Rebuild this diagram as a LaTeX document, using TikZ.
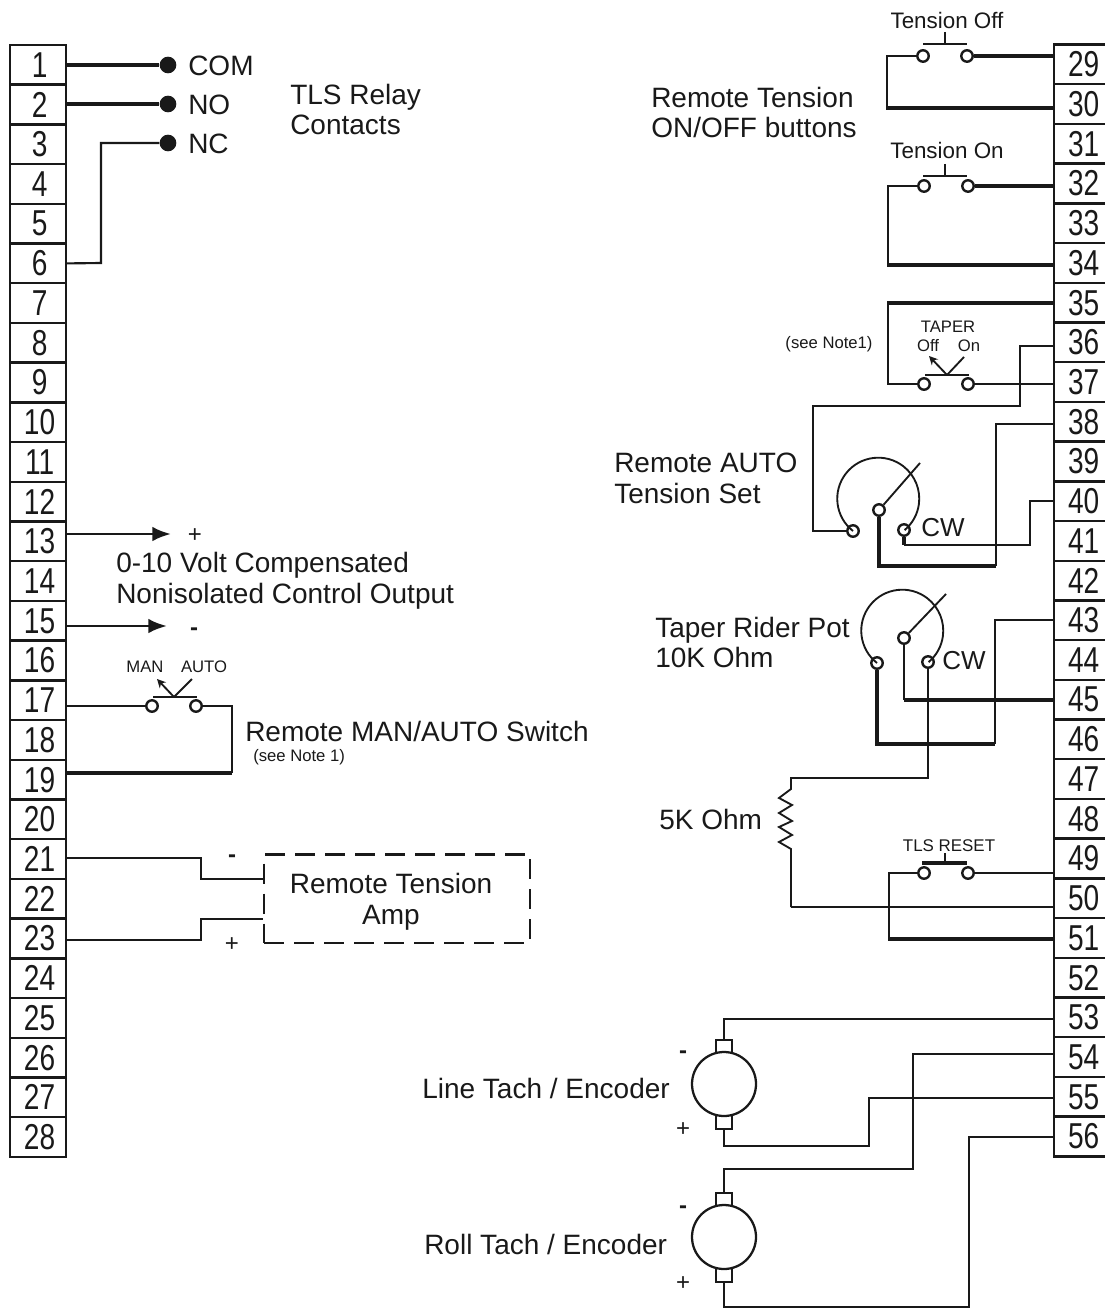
\documentclass[tikz,border=0pt]{standalone}
\usepackage{fontspec}
\setmainfont{Liberation Sans}
\newfontfamily\narrowf[FakeStretch=0.78]{Liberation Sans}
\usetikzlibrary{arrows.meta}
\newcommand{\termtext}[1]{\hspace*{2.4pt}\raisebox{-0.7pt}{#1}}
\tikzset{
  x=0.75pt,y=-0.75pt,
  term/.style={draw=black!90,line width=1.8pt,minimum width=42pt,minimum height=29.8pt,inner sep=0pt,font=\narrowf\fontsize{27}{27}\selectfont,text=black!90},
  wire/.style={draw=black!90,line width=1.6pt,line join=miter},
  thin wire/.style={draw=black!90,line width=1.4pt},
  thick wire/.style={draw=black!90,line width=2.5pt},
  lab/.style={inner sep=0pt,anchor=west,align=left,font=\fontsize{21}{23.2}\selectfont,text=black!90},
  midlab/.style={inner sep=0pt,font=\fontsize{16.8}{18}\selectfont,text=black!90},
  small/.style={inner sep=0pt,font=\fontsize{12.5}{14}\selectfont,text=black!90},
  sign/.style={inner sep=0pt,font=\fontsize{18}{20}\selectfont,text=black!90},
  minus/.style={inner sep=0pt,font=\bfseries\fontsize{18}{20}\selectfont,text=black!90},
  pin/.style={circle,draw=black!90,fill=white,line width=1.8pt,minimum size=8.6pt,inner sep=0pt},
  dotpin/.style={circle,fill=black!90,minimum size=12.5pt,inner sep=0pt},
  brush/.style={rectangle,draw=black!90,fill=white,line width=1.3pt,minimum width=12pt,minimum height=10pt,inner sep=0pt},
  motor/.style={circle,draw=black!90,fill=white,line width=1.7pt,minimum size=48pt,inner sep=0pt},
  amp/.style={rectangle,draw=black!90,dash pattern=on 15pt off 7.5pt,line width=2pt,minimum width=199.5pt,minimum height=66.5pt,inner sep=0pt},
  bar/.style={draw=black!90,line width=1.4pt},
  stem/.style={draw=black!90,line width=1.9pt},
  arr/.style={draw=black!90,line width=2.2pt,-{Latex[length=14pt,width=11pt]}},
  swarr/.style={draw=black!90,line width=1.4pt,-{Stealth[length=6.5pt,width=6.5pt]}},
}
\begin{document}
\begin{tikzpicture}
\useasboundingbox (0,0) rectangle (1104,1308);
\foreach \i in {1,...,28}{
  \node[term] (t\i) at (38,{45+39.71*(\i-0.5)}) {\termtext{\i}};
}
\foreach \i [evaluate=\i as \r using int(\i-28)] in {29,...,56}{
  \node[term] (t\i) at (1082,{44.5+39.71*(\r-0.5)}) {\termtext{\i}};
}
% relay contacts
\node[dotpin] (com) at (168,65) {};
\node[dotpin] (no) at (168,104) {};
\node[dotpin] (nc) at (168,143) {};
\draw[thick wire] (t1.east |- com) -- (com);
\draw[thick wire] (t2.east |- no) -- (no);
\draw[wire] (t6.east) -- (101,263) -- (101,143) -- (nc);
\node[lab] (lcom) at (188,66) {COM};
\node[lab] (lno) at (188,105) {NO};
\node[lab] (lnc) at (188,144) {NC};
\node[lab] (lrelay) at (290,109.5) {TLS Relay\\Contacts};
% output
\coordinate (a13) at (171,534);
\coordinate (a15) at (167,626);
\draw[arr] (t13.east |- a13) -- (a13);
\draw[arr] (t15.east |- a15) -- (a15);
\node[sign] (lplus) at (195,536) {+};
\node[minus] (lminus) at (194,632) {-};
\node[lab] (lout) at (116,581) {0-10 Volt Compensated\\Nonisolated Control Output};
% man auto
\node[pin] (ma) at (152,706) {};
\node[pin] (mb) at (196,706) {};
\draw[wire] (t17.east |- ma) -- (ma);
\draw[wire] (mb) -- (232,706) -- (232,773);
\draw[thick wire] (232,773) -- (t19.east |- 0,773);
\draw[bar] (153,697) -- (197,697);
\draw[swarr] (174,697) -- (157,679);
\draw[bar] (174,697) -- (192,679);
\node[small] (lman) at (145,667) {MAN};
\node[small] (lauto) at (204,667) {AUTO};
\node[lab] (lremsw) at (245,731) {Remote MAN/AUTO Switch};
\node[small,anchor=west] (lnote) at (253,757) {(see Note 1)};
% amp
\node[amp] (ampbox) at (397,898.5) {};
\node[lab,anchor=center,align=center] (lamp) at (391,902) {Remote Tension\\Amp};
\draw[wire] (t21.east |- 0,858) -- (201,858) -- (201,879) -- (ampbox.west |- 0,879);
\draw[wire] (t23.east |- 0,940) -- (201,940) -- (201,919) -- (ampbox.west |- 0,919);
\node[minus] (lam) at (232,859) {-};
\node[sign] (lap) at (232,945) {+};
% tension off
\node[pin] (oa) at (923,56) {};
\node[pin] (ob) at (967,56) {};
\draw[thick wire] (ob) -- (t29.west |- ob);
\draw[thin wire] (oa) -- (887,56) -- (887,108);
\draw[thick wire] (886,108) -- (t30.west |- 0,108);
\draw[bar] (923,44) -- (967,44);
\draw[stem] (945,32) -- (945,44);
\node[midlab] (loff) at (947,20.5) {Tension Off};
% tension on
\node[pin] (na) at (924,186) {};
\node[pin] (nb) at (968,186) {};
\draw[thick wire] (nb) -- (t32.west |- nb);
\draw[thin wire] (na) -- (888,186) -- (888,265);
\draw[thick wire] (887,265) -- (t34.west |- 0,265);
\draw[bar] (923,176) -- (967,176);
\draw[stem] (945,164) -- (945,176);
\node[midlab] (lon) at (947,150.5) {Tension On};
\node[lab] (lrem) at (651,112.5) {Remote Tension\\ON/OFF buttons};
% taper
\node[pin] (ta) at (924,384) {};
\node[pin] (tb) at (968,384) {};
\draw[thick wire] (t35.west |- 0,303) -- (887,303);
\draw[thin wire] (888,303) -- (888,384) -- (ta);
\draw[thin wire] (tb) -- (t37.west |- tb);
\draw[bar] (925,375) -- (969,375);
\draw[swarr] (947,375) -- (929,356);
\draw[bar] (947,375) -- (964,357);
\node[small] (ltaper) at (948,327) {TAPER};
\node[small] (ltoff) at (928,346) {Off};
\node[small] (lton) at (969,346) {On};
\node[small] (lnote1) at (829,344) {(see Note1)};
% pot 1
\node[pin] (p1l) at (853,531) {};
\node[pin] (p1w) at (879,510) {};
\node[pin] (p1c) at (904,530) {};
\draw[thin wire] (t36.west |- 0,346) -- (1020,346) -- (1020,406) -- (813,406) -- (813,531) -- (p1l);
\draw[thin wire] (p1w) -- (920,463);
\draw[thick wire] (p1w) -- (879,566) -- (996,566);
\draw[thin wire] (996,566) -- (996,424) -- (t38.west |- 0,424);
\draw[thick wire] (p1c) -- (904,545);
\draw[thin wire] (904,545) -- (1030,545) -- (1030,501) -- (t40.west |- 0,501);
\draw[thin wire] (p1l) ++(0,0) arc[start angle=232,end angle=-50,radius=30.75pt];
\node[midlab,font=\fontsize{19.5}{20}\selectfont] (lcw1) at (943,527.5) {CW};
\node[lab] (lpot1) at (614,478.5) {Remote AUTO\\Tension Set};
% pot 2
\node[pin] (p2l) at (877,663) {};
\node[pin] (p2w) at (904,638) {};
\node[pin] (p2c) at (928,662) {};
\draw[thin wire] (p2w) -- (946,594);
\draw[thin wire] (p2w) -- (904,700);
\draw[thick wire] (904,700) -- (t45.west |- 0,700);
\draw[thick wire] (p2l) -- (877,744) -- (995,744);
\draw[thin wire] (995,744) -- (995,620) -- (t43.west |- 0,620);
\coordinate (rtop) at (791,789);
\coordinate (rbot) at (791,849);
\draw[thin wire] (p2c) -- (928,778) -- (791,778) -- (rtop)
  -- (779,798) -- (792,805) -- (779,813) -- (792,821) -- (779,827) -- (792,835) -- (779,842) -- (rbot)
  -- (791,907);
\draw[thin wire] (791,907) -- (t50.west |- 0,907);
\draw[thin wire] (p2l) ++(0,0) arc[start angle=232,end angle=-50,radius=30.75pt];
\node[midlab,font=\fontsize{19.5}{20}\selectfont] (lcw2) at (964,660.5) {CW};
\node[lab] (lpot2) at (655,642.5) {Taper Rider Pot\\10K Ohm};
\node[lab] (l5k) at (659,819) {5K Ohm};
% reset
\node[pin] (ra) at (924,873) {};
\node[pin] (rb) at (968,873) {};
\draw[thin wire] (rb) -- (t49.west |- rb);
\draw[thin wire] (ra) -- (889,873) -- (889,939);
\draw[thick wire] (888,939) -- (t51.west |- 0,939);
\draw[thick wire] (922,863) -- (967,863);
\draw[stem] (945,853) -- (945,863);
\node[small,font=\fontsize{12.7}{14}\selectfont] (lreset) at (949,846) {TLS RESET};
% motors
\node[brush] (m1t) at (724,1046.5) {};
\node[brush] (m1b) at (724,1122) {};
\node[motor] (m1) at (724,1084) {};
\node[brush] (m2t) at (724,1199.5) {};
\node[brush] (m2b) at (724,1275) {};
\node[motor] (m2) at (724,1237) {};
\draw[wire] (m1t.north) -- (724,1019) -- (t53.west |- 0,1019);
\draw[wire] (m1b.south) -- (724,1146) -- (869,1146) -- (869,1098) -- (t55.west |- 0,1098);
\draw[wire] (t54.west |- 0,1054) -- (913,1054) -- (913,1169) -- (724,1169) -- (m2t.north);
\draw[wire] (t56.west |- 0,1137) -- (969,1137) -- (969,1307) -- (724,1307) -- (m2b.south);
\node[minus] (m1m) at (683,1055) {-};
\node[sign] (m1p) at (683,1130) {+};
\node[minus] (m2m) at (683,1210) {-};
\node[sign] (m2p) at (683,1284) {+};
\node[lab] (lline) at (422,1088) {Line Tach / Encoder};
\node[lab] (lroll) at (424,1244) {Roll Tach / Encoder};
\end{tikzpicture}
\end{document}
